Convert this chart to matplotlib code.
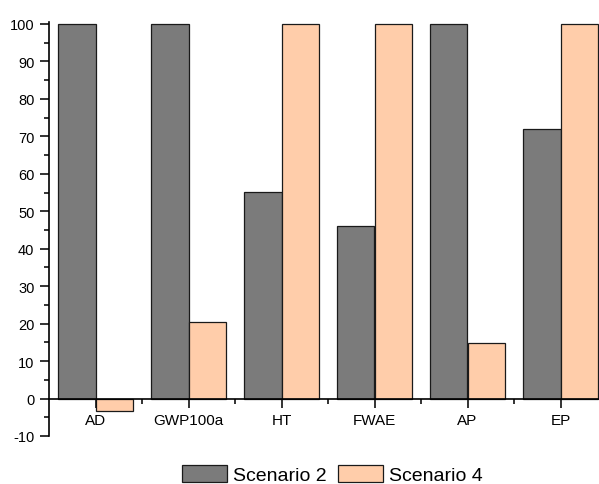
import matplotlib
matplotlib.use("Agg")
import matplotlib.pyplot as plt
import numpy as np
from matplotlib.ticker import MultipleLocator, FixedLocator

categories = ["AD", "GWP100a", "HT", "FWAE", "AP", "EP"]
scenario2 = [100, 100, 55.2, 46.0, 100, 72.0]
scenario4 = [-3.2, 20.4, 100, 100, 14.8, 100]
yticks = [-10, 0, 10, 20, 30, 40, 50, 60, 70, 80, 90, 100]

plt.rcParams['font.family'] = ['Liberation Sans', 'DejaVu Sans']
plt.rcParams['axes.unicode_minus'] = False

W, H = 599, 485
fig = plt.figure(figsize=(W / 100, H / 100), dpi=100)
ax = fig.add_axes([49 / W, (H - 437) / H, (607 - 49) / W, (437 - 23.1) / H])

x = np.arange(len(categories))
w = 0.4
ax.bar(x - w / 2, scenario2, w, color="#7b7b7b", edgecolor="#1a1a1a", linewidth=0.9, label="Scenario 2")
ax.bar(x + w / 2, scenario4, w, color="#ffcdaa", edgecolor="#1a1a1a", linewidth=0.9, label="Scenario 4")

ax.set_xlim(-0.5, len(categories) - 0.5)
ax.set_ylim(-10, 100.5)
ax.set_yticks(yticks)
ax.yaxis.set_minor_locator(MultipleLocator(5))
ax.set_xticks(x)
ax.set_xticklabels(categories)
ax.xaxis.set_minor_locator(FixedLocator(x[:-1] + 0.5))

for s in ["top", "right"]:
    ax.spines[s].set_visible(False)
ax.spines["bottom"].set_position(("data", 0))
ax.spines["left"].set_linewidth(1.2)
ax.spines["bottom"].set_linewidth(1.2)

ax.tick_params(axis="both", which="major", direction="out", length=6.5, width=1.2, labelsize=10.5, color="#111111")
ax.tick_params(axis="both", which="minor", direction="out", length=3.5, width=1.2, color="#111111")
ax.tick_params(axis="x", which="major", pad=4, labelsize=11)
ax.tick_params(axis="y", which="major", pad=4)

handles, labels = ax.get_legend_handles_labels()
fig.legend(handles, labels, loc="upper center", bbox_to_anchor=(0.555, (H - 466) / H),
           ncol=2, frameon=False, fontsize=14, handlelength=2.3, handleheight=0.95,
           handletextpad=0.3, columnspacing=0.6, borderpad=0, borderaxespad=0)

fig.savefig("out.png", dpi=100)
